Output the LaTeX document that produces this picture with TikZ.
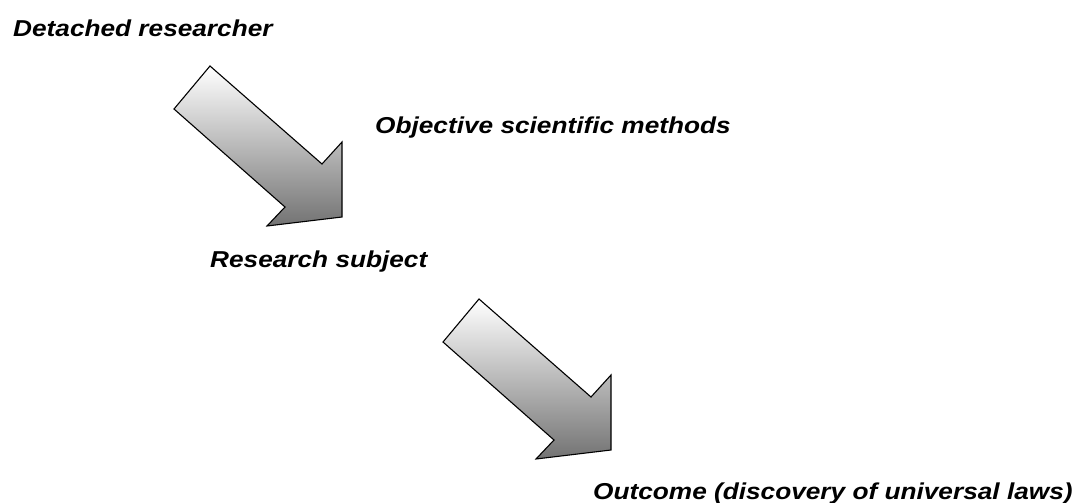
\documentclass[tikz,border=0pt]{standalone}
\usepackage{fontspec}
\setmainfont{Liberation Sans}
\usepackage{graphicx}
\begin{document}
\begin{tikzpicture}[x=1pt,y=-1pt,
  lbl/.style={anchor=base west,inner sep=0pt,font=\fontsize{23}{27}\selectfont\bfseries\itshape},
  blockarrow/.pic={
    \path[draw=black,line width=1.1pt,line join=miter,top color=white,bottom color=black!55]
      (0,0) -- (112,98) -- (132,76) -- (132,151) -- (57,160) -- (75,141) -- (-36,43) -- cycle;
  }]
\useasboundingbox (0,0) rectangle (1084,503);
\pic at (210,66) {blockarrow};
\pic at (479,299) {blockarrow};
\node[lbl] (det) at (13,37) {\scalebox{1.14}[1]{Detached researcher}};
\node[lbl] (obj) at (375,133) {\scalebox{1.14}[1]{Objective scientific methods}};
\node[lbl] (res) at (210,267) {\scalebox{1.14}[1]{Research subject}};
\node[lbl] (out) at (593,499) {\scalebox{1.14}[1]{Outcome (discovery of universal laws)}};
\end{tikzpicture}
\end{document}
